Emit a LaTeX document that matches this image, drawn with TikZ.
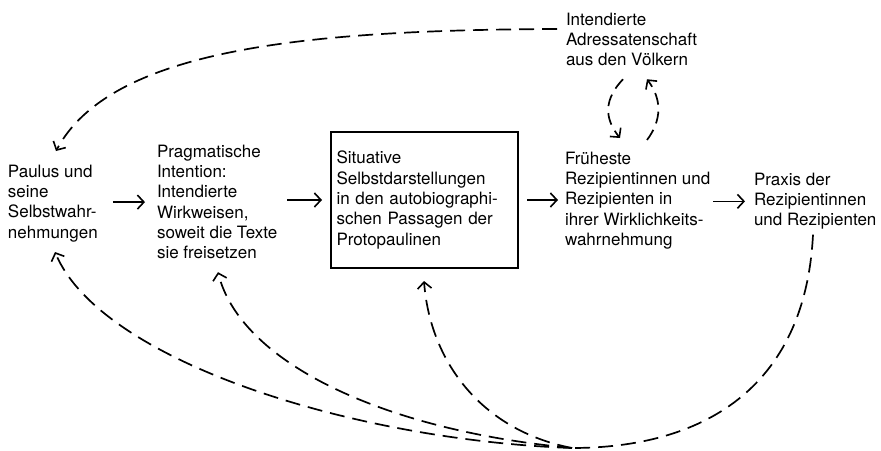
\documentclass[tikz,border=0pt]{standalone}
\usepackage{fontspec}
\setmainfont{TeX Gyre Heros}
\usetikzlibrary{arrows.meta,calc}
\begin{document}
\begin{tikzpicture}[x=1pt,y=-1pt,
  labeltext/.style={align=left, inner sep=0pt, outer sep=0pt, anchor=north west,
    font=\fontsize{17}{20.3}\selectfont},
  flow/.style={line width=1.7pt, -{Straight Barb[length=6.5pt,width=14pt,line width=1.6pt]}},
  loose/.style={flow, dash pattern=on 15pt off 8pt}]
  \useasboundingbox (0,0) rectangle (881,450);

  % main row
  \node[labeltext] (paulus) at (8,165) {Paulus und\\seine\\Selbstwahr-\\nehmungen};
  \node[labeltext] (prag) at (157,145) {Pragmatische\\Intention:\\Intendierte\\Wirkweisen,\\soweit die Texte\\sie freisetzen};
  \node[draw, line width=1.8pt, minimum width=187pt, minimum height=136pt,
        text width=176pt, inner xsep=5.5pt, inner ysep=0pt, outer sep=0pt, align=left,
        font=\fontsize{17}{20.3}\selectfont] (box) at (424.5,200)
        {Situative\\Selbstdarstellungen\\in den autobiographi-\\schen Passagen der\\Protopaulinen};
  \node[labeltext] (frue) at (565,152) {Früheste\\Rezipientinnen und\\Rezipienten in\\ihrer Wirklichkeits-\\wahrnehmung};
  \node[labeltext] (praxis) at (754,173) {Praxis der\\Rezipientinnen\\und Rezipienten};

  % addressees above
  \node[labeltext] (adr) at (566,13) {Intendierte\\Adressatenschaft\\aus den Völkern};

  % solid arrows along the row
  \draw[flow, shorten <=15pt, shorten >=12pt] (paulus.east |- prag.west) -- (prag.west);
  \draw[flow, shorten <=10pt, shorten >=9pt] (prag.east |- box.west) -- (box.west);
  \draw[flow, shorten <=9pt, shorten >=7pt] (box.east) -- (box.east -| frue.west);
  \draw[flow, shorten <=3pt, shorten >=9pt] (frue.east |- praxis.west) -- (praxis.west);

  % from the addressees back to Paulus
  \draw[loose] ($(adr.north west)+(-9,16)$) .. controls +(-257,1) and +(54,-101) .. ($(paulus.north west)+(48,-14)$);

  % exchange between addressees and first recipients
  \draw[loose, dash pattern=on 12pt off 7pt] ($(adr.south west)+(57,13)$) .. controls +(-19,20) and +(-16,-20) .. ($(frue.north west)+(55,-14)$);
  \draw[loose, dash pattern=on 12pt off 7pt] ($(frue.north west)+(82,-12)$) .. controls +(15,-20) and +(15,20) .. ($(adr.south west)+(81,13)$);

  % feedback from the practice of the recipients
  \coordinate (hub) at (572,448);
  \draw[loose, -] ($(praxis.south west)+(59,5)$) .. controls +(-8,156) and +(128,0) .. (hub);
  \draw[loose] (hub) .. controls +(-222,-8) and +(45,108) .. ($(paulus.south west)+(47,10)$);
  \draw[loose] (hub) .. controls +(-192,-18) and +(22,89) .. ($(prag.south west)+(61,13)$);
  \draw[loose] (hub) .. controls +(-92,-18) and +(6,79) .. ($(box.south)+(-0.5,13)$);
\end{tikzpicture}
\end{document}
